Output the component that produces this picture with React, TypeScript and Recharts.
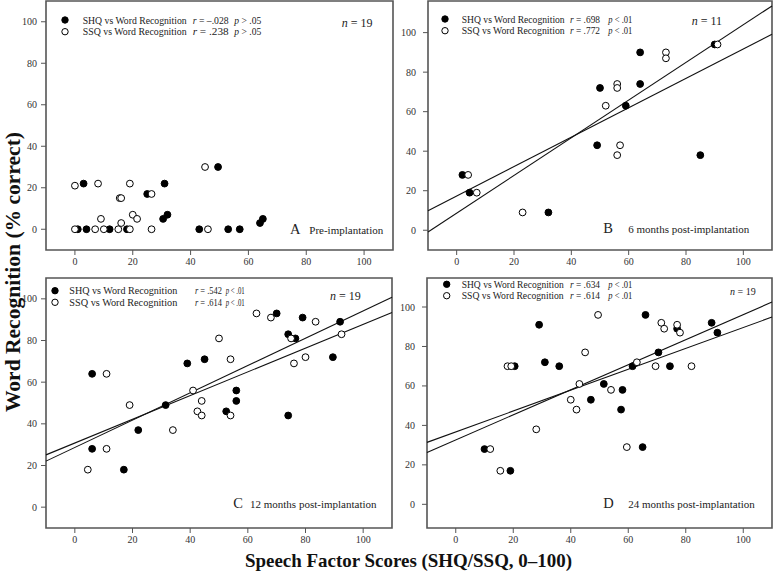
import React from "react";
import {
    ReferenceArea,
    ReferenceLine,
    Scatter,
    ScatterChart,
    XAxis,
    YAxis,
} from "recharts";

type Pt = { x: number; y: number };

// Panel A - pre-implantation
const shqA: Pt[] = [
    { x: 3, y: 22 }, { x: 1, y: 0 }, { x: 4, y: 0 }, { x: 12, y: 0 }, { x: 18, y: 0 },
    { x: 25, y: 17 }, { x: 31, y: 22 }, { x: 30.5, y: 5 }, { x: 32, y: 7 }, { x: 49.5, y: 30 },
    { x: 43, y: 0 }, { x: 53, y: 0 }, { x: 57, y: 0 }, { x: 64, y: 3 }, { x: 65, y: 5 },
];
const ssqA: Pt[] = [
    { x: 0, y: 21 }, { x: 0, y: 0 }, { x: 8, y: 22 }, { x: 7, y: 0 }, { x: 10, y: 0 },
    { x: 9, y: 5 }, { x: 15, y: 0 }, { x: 15.5, y: 15 }, { x: 16, y: 15 }, { x: 16, y: 3 },
    { x: 19, y: 22 }, { x: 19, y: 0 }, { x: 20, y: 7 }, { x: 21.5, y: 5 }, { x: 26.5, y: 17 },
    { x: 26.5, y: 0 }, { x: 45, y: 30 }, { x: 46, y: 0 },
];

// Panel B - 6 months
const shqB: Pt[] = [
    { x: 2, y: 28 }, { x: 4.5, y: 19 }, { x: 32, y: 9 }, { x: 49, y: 43 }, { x: 50, y: 72 },
    { x: 59, y: 63 }, { x: 64, y: 90 }, { x: 64, y: 74 }, { x: 85, y: 38 }, { x: 90, y: 94 },
];
const ssqB: Pt[] = [
    { x: 4, y: 28 }, { x: 7, y: 19 }, { x: 23, y: 9 }, { x: 52, y: 63 }, { x: 56, y: 74 },
    { x: 56, y: 72 }, { x: 56, y: 38 }, { x: 57, y: 43 }, { x: 73, y: 90 }, { x: 73, y: 87 },
    { x: 91, y: 94 },
];
const fitB: Pt[][] = [
    [{ x: -10, y: -0.9 }, { x: 110, y: 113.5 }],
    [{ x: -10, y: 9.9 }, { x: 110, y: 99.2 }],
];

// Panel C - 12 months
const shqC: Pt[] = [
    { x: 6, y: 64 }, { x: 6, y: 28 }, { x: 17, y: 18 }, { x: 22, y: 37 }, { x: 31.5, y: 49 },
    { x: 39, y: 69 }, { x: 45, y: 71 }, { x: 52.5, y: 46 }, { x: 56, y: 56 }, { x: 56, y: 51 },
    { x: 70, y: 93 }, { x: 74, y: 83 }, { x: 76.5, y: 81 }, { x: 74, y: 44 }, { x: 79, y: 91 },
    { x: 89.5, y: 72 }, { x: 92, y: 89 },
];
const ssqC: Pt[] = [
    { x: 4.5, y: 18 }, { x: 11, y: 64 }, { x: 11, y: 28 }, { x: 19, y: 49 }, { x: 34, y: 37 },
    { x: 41, y: 56 }, { x: 42.5, y: 46 }, { x: 44, y: 51 }, { x: 44, y: 44 }, { x: 50, y: 81 },
    { x: 54, y: 44 }, { x: 54, y: 71 }, { x: 63, y: 93 }, { x: 68, y: 91 }, { x: 75, y: 81 },
    { x: 76, y: 69 }, { x: 80, y: 72 }, { x: 83.5, y: 89 }, { x: 92.5, y: 83 },
];
const fitC: Pt[][] = [
    [{ x: -10, y: 22.1 }, { x: 110, y: 100.8 }],
    [{ x: -10, y: 25.1 }, { x: 110, y: 93.4 }],
];

// Panel D - 24 months
const shqD: Pt[] = [
    { x: 10, y: 28 }, { x: 19, y: 17 }, { x: 20.5, y: 70 }, { x: 29, y: 91 }, { x: 31, y: 72 },
    { x: 36, y: 70 }, { x: 47, y: 53 }, { x: 51.5, y: 61 }, { x: 57.5, y: 48 }, { x: 58, y: 58 },
    { x: 61.5, y: 70 }, { x: 65, y: 29 }, { x: 66, y: 96 }, { x: 70.5, y: 77 }, { x: 74.5, y: 70 },
    { x: 77, y: 89 }, { x: 89, y: 92 }, { x: 91, y: 87 },
];
const ssqD: Pt[] = [
    { x: 12, y: 28 }, { x: 15.5, y: 17 }, { x: 18, y: 70 }, { x: 19.3, y: 70 }, { x: 28, y: 38 },
    { x: 40, y: 53 }, { x: 42, y: 48 }, { x: 43, y: 61 }, { x: 45, y: 77 }, { x: 49.5, y: 96 },
    { x: 54, y: 58 }, { x: 59.5, y: 29 }, { x: 63, y: 72 }, { x: 69.5, y: 70 }, { x: 71.5, y: 92 },
    { x: 72.5, y: 89 }, { x: 77, y: 91 }, { x: 78, y: 87 }, { x: 82, y: 70 },
];
const fitD: Pt[][] = [
    [{ x: -10, y: 26.3 }, { x: 110, y: 102.5 }],
    [{ x: -10, y: 31.4 }, { x: 110, y: 94.9 }],
];

const xTicks = [0, 20, 40, 60, 80, 100];
const yTicks = [0, 20, 40, 60, 80, 100];

const seriesNames = ["SHQ vs Word Recognition", "SSQ vs Word Recognition"];
const rValues = { A: ["\u2013.028", ".238"], B: [".698", ".772"], C: [".542", ".614"], D: [".634", ".614"] };
const pValues = { A: ["> .05", "> .05"], B: ["< .01", "< .01"], C: ["< .01", "< .01"], D: ["< .01", "< .01"] };
const nValues = { A: 19, B: 11, C: 19, D: 19 };

const FONT = "'Liberation Serif', 'Times New Roman', serif";
const FRAME = "#555";

const dot = (fill: string) => (p: any) => (
    <circle cx={p.cx} cy={p.cy} r={3.4} fill={fill} stroke="#000" strokeWidth={1} />
);

function Panel({
    box,
    yDomain,
    shq,
    ssq,
    fits,
    yGap,
}: {
    box: [number, number, number, number];
    yDomain: [number, number];
    shq: Pt[];
    ssq: Pt[];
    fits: Pt[][];
    yGap: number;
}) {
    const [x0, y0, x1, y1] = box;
    const axisW = 46;
    const axisH = 26;
    const tick = { fontSize: 10, fill: "#333", fontFamily: FONT };
    return (
        <div style={{ position: "absolute", left: x0 - axisW, top: y0 - 2 }}>
            <ScatterChart
                width={x1 - x0 + axisW + 2}
                height={y1 - y0 + 2 + axisH}
                margin={{ top: 2, right: 2, bottom: 0, left: 0 }}
            >
                <XAxis
                    type="number"
                    dataKey="x"
                    domain={[-10, 110]}
                    ticks={xTicks}
                    allowDataOverflow
                    height={axisH}
                    axisLine={false}
                    tickLine={{ stroke: FRAME }}
                    tickSize={5}
                    tickMargin={3}
                    tick={tick}
                />
                <YAxis
                    type="number"
                    dataKey="y"
                    domain={yDomain}
                    ticks={yTicks}
                    allowDataOverflow
                    width={axisW}
                    axisLine={false}
                    tickLine={{ stroke: FRAME }}
                    tickSize={5}
                    tickMargin={yGap}
                    tick={tick}
                />
                <ReferenceArea
                    x1={-10}
                    x2={110}
                    y1={yDomain[0]}
                    y2={yDomain[1]}
                    fill="none"
                    stroke={FRAME}
                    strokeWidth={1.6}
                />
                {fits.map((seg, i) => (
                    <ReferenceLine key={i} segment={seg} stroke="#111" strokeWidth={1.1} />
                ))}
                <Scatter data={shq} shape={dot("#000")} isAnimationActive={false} />
                <Scatter data={ssq} shape={dot("#fff")} isAnimationActive={false} />
            </ScatterChart>
        </div>
    );
}

// legend rows over a panel, page coordinates; widths squeeze the text like the original
function Legend({
    panel,
    x0,
    dx,
    rows,
    size,
    rDx,
    pDx,
    widths,
}: {
    panel: "A" | "B" | "C" | "D";
    x0: number;
    dx: number;
    rows: [number, number];
    size: number;
    rDx: number;
    pDx: number;
    widths: [number, number, number];
}) {
    return (
        <g fontFamily={FONT} fontSize={size} fill="#222">
            {rows.map((ry, i) => (
                <g key={i}>
                    <circle
                        cx={x0}
                        cy={ry}
                        r={3.2}
                        fill={i === 0 ? "#000" : "#fff"}
                        stroke="#000"
                        strokeWidth={1}
                    />
                    <text x={x0 + dx} y={ry + 3.6} textLength={widths[0]} lengthAdjust="spacingAndGlyphs">
                        {seriesNames[i]}
                    </text>
                    <text x={x0 + rDx} y={ry + 3.6} textLength={widths[1]} lengthAdjust="spacingAndGlyphs">
                        <tspan fontStyle="italic">r</tspan> = {rValues[panel][i]}
                    </text>
                    <text x={x0 + pDx} y={ry + 3.6} textLength={widths[2]} lengthAdjust="spacingAndGlyphs">
                        <tspan fontStyle="italic">p</tspan> {pValues[panel][i]}
                    </text>
                </g>
            ))}
        </g>
    );
}

function Tag({ x, y, letter, text, gap }: { x: number; y: number; letter: string; text: string; gap: number }) {
    return (
        <g fontFamily={FONT} fill="#222">
            <text x={x} y={y} fontSize={14.5}>{letter}</text>
            <text x={x + gap} y={y} fontSize={11}>{text}</text>
        </g>
    );
}

function NText({ x, y, size, n }: { x: number; y: number; size: number; n: number }) {
    return (
        <text x={x} y={y} fontFamily={FONT} fontSize={size} fill="#222">
            <tspan fontStyle="italic">n</tspan> = {n}
        </text>
    );
}

export default function App() {
    return (
        <div
            style={{
                position: "absolute",
                left: 0,
                top: 0,
                width: 774,
                height: 571,
                background: "#fff",
                overflow: "hidden",
            }}
        >
            <Panel box={[46, 1, 393, 250]} yDomain={[-10, 110]} shq={shqA} ssq={ssqA} fits={[]} yGap={4} />
            <Panel box={[428, 1, 772, 250]} yDomain={[-10, 116]} shq={shqB} ssq={ssqB} fits={fitB} yGap={7} />
            <Panel box={[46, 278, 392, 528]} yDomain={[-10, 110]} shq={shqC} ssq={ssqC} fits={fitC} yGap={4} />
            <Panel box={[427, 278, 772, 528]} yDomain={[-12, 114.7]} shq={shqD} ssq={ssqD} fits={fitD} yGap={7} />

            <svg
                width={774}
                height={571}
                style={{ position: "absolute", left: 0, top: 0, pointerEvents: "none" }}
            >
                <Legend panel="A" x0={65} dx={17.7} rows={[20, 31.7]} size={9.6} rDx={127.7} pDx={169.3}
                    widths={[104, 36, 27]} />
                <Legend panel="B" x0={445} dx={16.7} rows={[19, 30.7]} size={9.6} rDx={125} pDx={163.3}
                    widths={[103, 30, 24]} />
                <Legend panel="C" x0={55} dx={14.3} rows={[290.7, 302.3]} size={9.6} rDx={140} pDx={170.7}
                    widths={[108, 27, 19]} />
                <Legend panel="D" x0={446.7} dx={15} rows={[284.3, 295.7]} size={9.6} rDx={123.3} pDx={161.6}
                    widths={[102, 30, 24]} />

                <NText x={341.7} y={27} size={12} n={nValues.A} />
                <NText x={691.7} y={25} size={12} n={nValues.B} />
                <NText x={330} y={300} size={12} n={nValues.C} />
                <NText x={730} y={294.5} size={10} n={nValues.D} />

                <Tag x={290} y={234} letter="A" text="Pre-implantation" gap={19.3} />
                <Tag x={603.3} y={233} letter="B" text="6 months post-implantation" gap={25} />
                <Tag x={233.3} y={508.3} letter="C" text="12 months post-implantation" gap={16.7} />
                <Tag x={603.3} y={508.3} letter="D" text="24 months post-implantation" gap={25} />

                <text
                    x={20}
                    y={272}
                    transform="rotate(-90 20 272)"
                    textAnchor="middle"
                    fontFamily={FONT}
                    fontWeight="bold"
                    fontSize={21}
                    textLength={280}
                    lengthAdjust="spacingAndGlyphs"
                    fill="#111"
                >
                    Word Recognition (% correct)
                </text>
                <text
                    x={408.5}
                    y={567}
                    textAnchor="middle"
                    fontFamily={FONT}
                    fontWeight="bold"
                    fontSize={19}
                    textLength={327}
                    lengthAdjust="spacingAndGlyphs"
                    fill="#111"
                >
                    Speech Factor Scores (SHQ/SSQ, 0{"\u2013"}100)
                </text>
            </svg>
        </div>
    );
}
